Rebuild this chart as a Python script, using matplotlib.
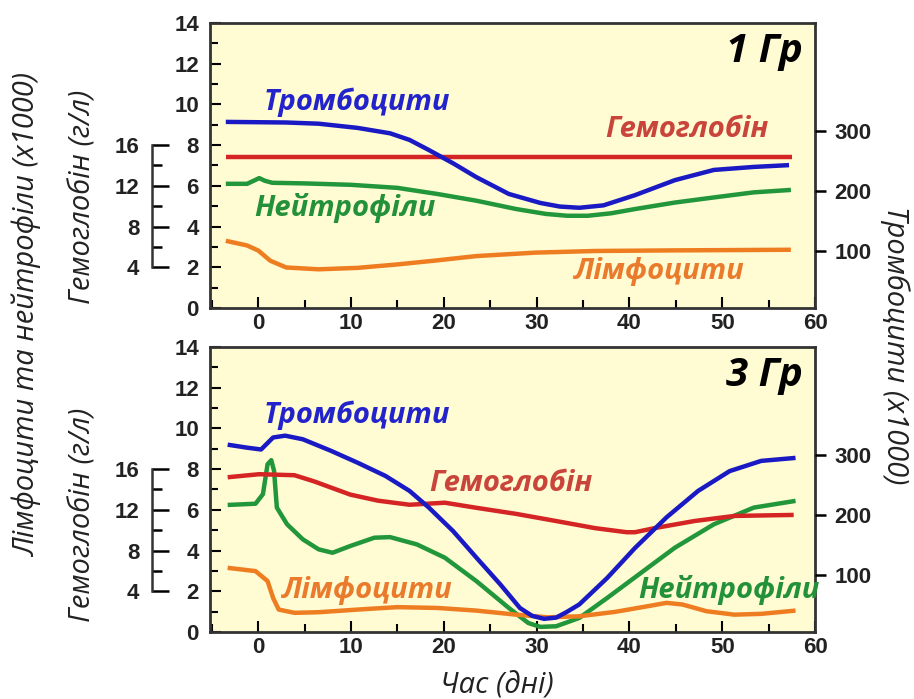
import matplotlib
matplotlib.use('Agg')
import matplotlib.pyplot as plt
from matplotlib.ticker import MultipleLocator

# ---- panel 1 Гр ----
# platelets (x1000, right axis)
plt1_x = [-3.5, 3, 6.5, 10.7, 14.2, 16.3, 18.4, 21, 23.5, 27, 30.4, 32.5, 34.6, 37.2, 40.6, 44.9, 49.1, 53.4, 57.2]
plt1_y = [315, 314, 312, 305, 296, 285, 268, 246, 223, 195, 180, 174, 172, 176, 193, 218, 235, 240, 243]
# hemoglobin (g/l)
hb1_x = [-3.5, 57.5]
hb1_y = [14.8, 14.8]
# neutrophils (x1000)
neu1_x = [-3.5, -1.2, -0.5, 0.1, 0.7, 1.5, 5, 10, 15, 19.3, 23.5, 27.8, 31, 33.3, 35.5, 38, 40.6, 44.9, 49.1, 53.4, 57.4]
neu1_y = [6.1, 6.1, 6.25, 6.38, 6.25, 6.15, 6.12, 6.05, 5.9, 5.6, 5.27, 4.86, 4.62, 4.53, 4.53, 4.65, 4.86, 5.18, 5.43, 5.68, 5.8]
# lymphocytes (x1000)
lym1_x = [-3.5, -1.2, 0, 1.3, 3, 6.5, 10.7, 15, 19.3, 23.5, 29.9, 36.3, 44.9, 57.4]
lym1_y = [3.3, 3.07, 2.82, 2.32, 1.99, 1.9, 1.97, 2.14, 2.34, 2.55, 2.72, 2.8, 2.83, 2.86]

# ---- panel 3 Гр ----
plt3_x = [-3.3, -1.2, 0.3, 1.6, 2.9, 4.8, 7.8, 10.7, 13.7, 16.3, 18.4, 21, 23.5, 26.1, 28.2, 29.5, 30.8, 32.1, 33.2, 34.6, 37.6, 40.6, 44, 47.4, 50.8, 54.2, 57.9]
plt3_y = [317, 312, 309, 329, 332, 326, 307, 287, 265, 240, 212, 173, 129, 84, 45, 32, 27, 29, 38, 51, 95, 145, 196, 240, 273, 290, 295]
hb3_x = [-3.3, 0.1, 3.9, 6, 9.9, 12.9, 16.3, 20.1, 23.5, 27.8, 32.1, 36.3, 39.7, 40.6, 42.7, 47, 51.3, 57.7]
hb3_y = [15.2, 15.5, 15.4, 14.8, 13.5, 12.9, 12.5, 12.7, 12.2, 11.6, 10.9, 10.2, 9.8, 9.8, 10.2, 10.9, 11.4, 11.5]
neu3_x = [-3.3, -0.3, 0.5, 1.0, 1.4, 1.7, 2.0, 3.1, 4.8, 6.5, 8, 9.9, 12.5, 14.2, 17.1, 20.1, 23.5, 27, 29.1, 30.4, 32.1, 34.6, 37.6, 41.5, 44.9, 49.1, 53.4, 57.9]
neu3_y = [6.24, 6.3, 6.77, 8.24, 8.44, 7.91, 6.11, 5.29, 4.55, 4.06, 3.89, 4.22, 4.63, 4.66, 4.3, 3.65, 2.5, 1.18, 0.44, 0.25, 0.28, 0.69, 1.67, 2.99, 4.14, 5.29, 6.11, 6.44]
lym3_x = [-3.3, -0.3, 1.0, 1.6, 2.2, 3.9, 6.5, 10.7, 15, 19.3, 23.5, 27.8, 31.2, 34.6, 38.5, 41.9, 44, 45.7, 48.3, 51.3, 54.2, 57.9]
lym3_y = [3.15, 2.99, 2.5, 1.67, 1.1, 0.94, 0.97, 1.1, 1.22, 1.18, 1.05, 0.85, 0.72, 0.77, 0.99, 1.26, 1.43, 1.35, 1.02, 0.85, 0.89, 1.05]

x_ticks = [0, 10, 20, 30, 40, 50, 60]
main_ticks = [0, 2, 4, 6, 8, 10, 12, 14]
hb_ticks = [4, 8, 12, 16]
plt_ticks = [100, 200, 300]

BLUE, RED, GREEN, ORANGE = '#1a1ac4', '#d42424', '#21963a', '#ee7d22'
BG = '#fffbd2'
TICKFONT = ['Liberation Sans Narrow', 'Liberation Sans']

fig = plt.figure(figsize=(9.14, 6.99), dpi=100)


def style_ticklabels(axis_obj):
    for lab in axis_obj.get_ticklabels():
        lab.set_family(TICKFONT)
        lab.set_fontweight('bold')
        lab.set_fontsize(16)
        lab.set_color('#222222')


def panel(rect, plt_x, plt_y, hb_x, hb_y, neu_x, neu_y, lym_x, lym_y, dose, labels):
    ax = fig.add_axes(rect)
    ax.set_facecolor(BG)
    ax.set_xlim(-5.2, 60)
    ax.set_ylim(0, 14)
    ax.set_xticks(x_ticks)
    ax.xaxis.set_minor_locator(MultipleLocator(5))
    ax.set_yticks(main_ticks)
    ax.yaxis.set_minor_locator(MultipleLocator(1))
    ax.tick_params(which='both', direction='in', width=1.5, top=False, right=False)
    ax.tick_params(which='major', length=8)
    ax.tick_params(which='minor', length=6)
    ax.tick_params(axis='y', pad=8)
    style_ticklabels(ax.xaxis)
    style_ticklabels(ax.yaxis)
    for s in ax.spines.values():
        s.set_linewidth(2)
        s.set_color('#333333')

    # hemoglobin axis on the left (g/l), half scale of the main axis
    axh = ax.twinx()
    axh.set_ylim(0, 28)
    for k in ['right', 'top', 'bottom']:
        axh.spines[k].set_visible(False)
    axh.spines['left'].set_visible(True)
    axh.spines['left'].set_position(('axes', -0.096))
    axh.spines['left'].set_bounds(4, 16)
    axh.spines['left'].set_linewidth(1.8)
    axh.spines['left'].set_color('#333333')
    axh.yaxis.set_ticks_position('left')
    axh.yaxis.set_label_position('left')
    axh.set_yticks(hb_ticks)
    axh.set_yticks([6, 10, 14], minor=True)
    axh.tick_params(which='both', direction='in', width=1.8, pad=9)
    axh.tick_params(which='major', length=12)
    axh.tick_params(which='minor', length=7)
    style_ticklabels(axh.yaxis)
    axh.patch.set_visible(False)

    # platelets on the right
    axp = ax.twinx()
    axp.set_ylim(5.1, 479.7)
    axp.set_yticks(plt_ticks)
    axp.tick_params(direction='out', length=8, width=1.8, pad=6)
    style_ticklabels(axp.yaxis)
    for s in axp.spines.values():
        s.set_visible(False)
    axp.patch.set_visible(False)

    kw = dict(lw=3.2, solid_capstyle='butt', solid_joinstyle='round')
    axh.plot(hb_x, hb_y, color=RED, **kw)
    ax.plot(neu_x, neu_y, color=GREEN, **kw)
    ax.plot(lym_x, lym_y, color=ORANGE, **kw)
    axp.plot(plt_x, plt_y, color=BLUE, **kw)

    tkw = dict(fontsize=21, fontweight='bold', style='italic', family='Open Sans', va='center', ha='left')
    for txt, x, y, c in labels:
        ax.text(x, y, txt, color=c, **tkw)
    ax.text(58.7, 12.6, dose, fontsize=29, fontweight='bold', style='italic', family='Open Sans',
            ha='right', va='center', color='black')
    return ax


panel([0.2298, 0.5594, 0.6619, 0.4077], plt1_x, plt1_y, hb1_x, hb1_y, neu1_x, neu1_y, lym1_x, lym1_y, '1 Гр',
      [('Тромбоцити', 0.6, 10.1, '#2323cc'), ('Гемоглобін', 37.4, 8.75, '#c9443a'),
       ('Нейтрофіли', -0.4, 4.93, '#23913a'), ('Лімфоцити', 34.0, 1.77, '#ea7a2c')])
panel([0.2298, 0.0959, 0.6619, 0.4077], plt3_x, plt3_y, hb3_x, hb3_y, neu3_x, neu3_y, lym3_x, lym3_y, '3 Гр',
      [('Тромбоцити', 0.6, 10.64, '#2323cc'), ('Гемоглобін', 18.4, 7.3, '#c9443a'),
       ('Лімфоцити', 2.5, 2.06, '#ea7a2c'), ('Нейтрофіли', 41.0, 2.06, '#23913a')])

lkw = dict(fontsize=21, style='italic', family='Open Sans', color='#222222', va='center', ha='center')
fig.text(27 / 914, 1 - 314 / 699, 'Лімфоцити та нейтрофіли (x1000)', rotation=90, **lkw)
fig.text(83 / 914, 1 - 197 / 699, 'Гемоглобін (г/л)', rotation=90, **lkw)
fig.text(83 / 914, 1 - 515 / 699, 'Гемоглобін (г/л)', rotation=90, **lkw)
fig.text(895 / 914, 1 - 345 / 699, 'Тромбоцити (x1000)', rotation=-90, **lkw)
fig.text(497 / 914, 1 - 686 / 699, 'Час (дні)', **lkw)

fig.savefig('out.png', dpi=100, facecolor='white')
